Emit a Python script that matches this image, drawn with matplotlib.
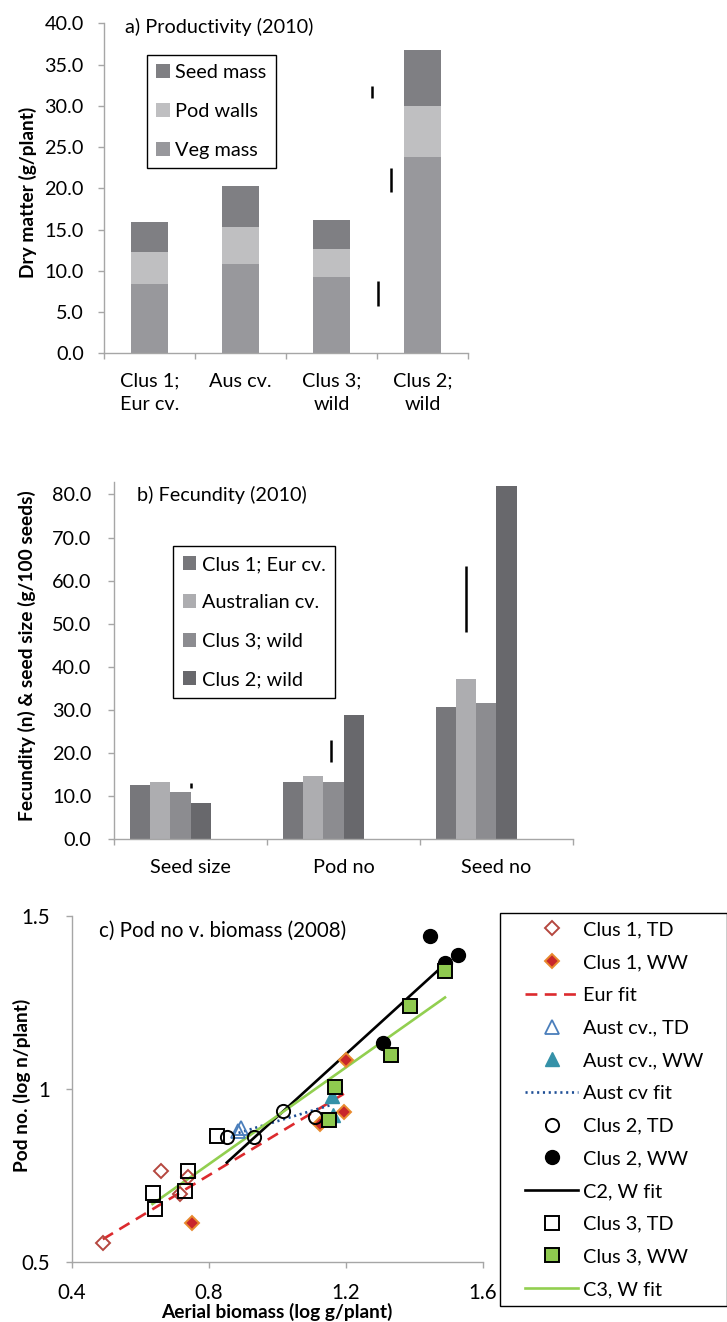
import matplotlib
matplotlib.use("Agg")
import matplotlib.pyplot as plt
from matplotlib.lines import Line2D
from matplotlib.legend_handler import HandlerLine2D

plt.rcParams['font.family'] = ['Lato', 'DejaVu Sans']
FS = 14.3
FS_LAB = 13.8
plt.rcParams['font.size'] = FS

W, H = 727, 1322
AXIS_GREY = '#a6a6a6'

# a) productivity (g/plant)
prod_groups = ["Clus 1;\nEur cv.", "Aus cv.", "Clus 3;\nwild", "Clus 2;\nwild"]
veg_mass = [8.4, 10.8, 9.2, 23.8]
pod_walls = [3.85, 4.55, 3.45, 6.2]
seed_mass = [3.7, 4.95, 3.5, 6.8]
prod_lsd_x = [2.44, 2.65, 2.51]
prod_lsd_lo = [31.0, 19.5, 5.7]
prod_lsd_hi = [32.4, 22.5, 8.8]

# b) fecundity
fec_groups = ["Seed size", "Pod no", "Seed no"]
fec_series = ["Clus 1; Eur cv.", "Australian cv.", "Clus 3; wild", "Clus 2; wild"]
eur_cv = [12.5, 13.2, 30.8]
aus_cv = [13.2, 14.8, 37.2]
clus3_wild = [11.0, 13.2, 31.6]
clus2_wild = [8.35, 28.9, 81.9]
fec_lsd_x = [0.0, 0.92, 1.80]
fec_lsd_lo = [11.9, 17.9, 48.1]
fec_lsd_hi = [13.0, 23.0, 63.4]

# c) pod no v. biomass (log)
c1_td_x = [0.49, 0.66, 0.715, 0.74]
c1_td_y = [0.555, 0.763, 0.697, 0.745]
c1_ww_x = [0.75, 1.20, 1.194, 1.125]
c1_ww_y = [0.613, 1.085, 0.934, 0.898]
eur_fit_x = [0.49, 1.20]
eur_fit_y = [0.565, 0.99]
aus_td_x = [0.886, 0.894]
aus_td_y = [0.878, 0.887]
aus_ww_x = [1.160, 1.162]
aus_ww_y = [0.979, 0.924]
aus_fit_x = [0.87, 1.16]
aus_fit_y = [0.868, 0.955]
c2_td_x = [0.852, 0.930, 1.017, 1.110]
c2_td_y = [0.860, 0.862, 0.936, 0.918]
c2_ww_x = [1.444, 1.489, 1.527, 1.307]
c2_ww_y = [1.443, 1.366, 1.388, 1.132]
c2_fit_x = [0.852, 1.478]
c2_fit_y = [0.787, 1.352]
c3_td_x = [0.823, 0.739, 0.731, 0.636, 0.643]
c3_td_y = [0.864, 0.764, 0.706, 0.700, 0.653]
c3_ww_x = [1.167, 1.151, 1.330, 1.387, 1.488]
c3_ww_y = [1.007, 0.910, 1.099, 1.240, 1.343]
c3_fit_x = [0.635, 1.489]
c3_fit_y = [0.667, 1.265]


def px_axes(fig, l, t, r, b):
    return fig.add_axes([l / W, 1 - b / H, (r - l) / W, (b - t) / H])


def style_axes(ax, size=FS):
    for s in ['top', 'right']:
        ax.spines[s].set_visible(False)
    for s in ['left', 'bottom']:
        ax.spines[s].set_color(AXIS_GREY)
        ax.spines[s].set_linewidth(1.0)
    ax.tick_params(which='major', color=AXIS_GREY, length=4.5, width=1.0,
                   direction='out', labelsize=size)


def legend_box(leg):
    fr = leg.get_frame()
    fr.set_edgecolor('black')
    fr.set_linewidth(1.0)
    fr.set_boxstyle('square', pad=0)


fig = plt.figure(figsize=(W / 100, H / 100), dpi=100)

# ---------------- panel a ----------------
ax = px_axes(fig, 104, 23.3, 468, 353.3)
style_axes(ax)
xa = list(range(len(prod_groups)))
bottom_pod = [v for v in veg_mass]
bottom_seed = [v + p for v, p in zip(veg_mass, pod_walls)]
ax.bar(xa, veg_mass, width=0.4, color='#98989c', label='Veg mass')
ax.bar(xa, pod_walls, width=0.4, bottom=bottom_pod, color='#bfbfc1', label='Pod walls')
ax.bar(xa, seed_mass, width=0.4, bottom=bottom_seed, color='#7f7f83', label='Seed mass')
ax.vlines(prod_lsd_x, prod_lsd_lo, prod_lsd_hi, color='black', lw=1.8)
ax.set_xlim(-0.5, 3.38)
ax.set_ylim(0, 40)
ax.set_yticks([0, 5, 10, 15, 20, 25, 30, 35, 40])
ax.set_yticklabels(['%.1f' % v for v in ax.get_yticks()])
ax.tick_params(axis='y', pad=10)
ax.set_xticks([-0.5, 0.5, 1.5, 2.5, 3.5])
ax.set_xticklabels([])
ax.set_xticks(xa, minor=True)
ax.set_xticklabels(prod_groups, minor=True, linespacing=1.42)
ax.tick_params(axis='x', which='minor', length=0, pad=14, labelsize=FS)
ax.text(125 / W, 1 - 26.7 / H, 'a) Productivity (2010)', transform=fig.transFigure,
        ha='left', va='center')
h, l = ax.get_legend_handles_labels()
leg = ax.legend(h[::-1], l[::-1], loc='upper left',
                bbox_to_anchor=(147 / W, 1 - 55 / H), bbox_transform=fig.transFigure,
                borderaxespad=0, borderpad=0.46, labelspacing=1.1,
                handlelength=0.71, handleheight=0.71, handletextpad=0.25,
                fancybox=False, framealpha=1)
legend_box(leg)
fig.text(28 / W, 1 - 192 / H, 'Dry matter (g/plant)', rotation=90,
         ha='center', va='center', fontweight='bold', fontsize=FS_LAB)

# ---------------- panel b ----------------
ax = px_axes(fig, 114.3, 482, 572.7, 839.3)
style_axes(ax)
bw = 0.1325
fec_colors = ['#77777b', '#adadb0', '#8c8c90', '#68686c']
for j, (vals, name) in enumerate(zip([eur_cv, aus_cv, clus3_wild, clus2_wild], fec_series)):
    xs = [i - 0.3975 + (j + 0.5) * bw for i in range(len(fec_groups))]
    ax.bar(xs, vals, width=bw, color=fec_colors[j], label=name)
ax.vlines(fec_lsd_x, fec_lsd_lo, fec_lsd_hi, color='black', lw=1.8)
ax.set_xlim(-0.5, 2.5)
ax.set_ylim(0, 82.9)
ax.set_yticks(range(0, 81, 10))
ax.set_yticklabels(['%.1f' % v for v in range(0, 81, 10)])
ax.tick_params(axis='y', pad=12)
ax.set_xticks([-0.5, 0.5, 1.5, 2.5])
ax.set_xticklabels([])
ax.set_xticks(range(len(fec_groups)), minor=True)
ax.set_xticklabels(fec_groups, minor=True)
ax.tick_params(axis='x', which='minor', length=0, pad=14, labelsize=FS)
ax.text(136.8 / W, 1 - 495 / H, 'b) Fecundity (2010)', transform=fig.transFigure,
        ha='left', va='center')
leg = ax.legend(loc='upper left',
                bbox_to_anchor=(172.6 / W, 1 - 546 / H), bbox_transform=fig.transFigure,
                borderaxespad=0, borderpad=0.5, labelspacing=1.08,
                handlelength=0.68, handleheight=0.7, handletextpad=0.28,
                fancybox=False, framealpha=1)
legend_box(leg)
fig.text(26.8 / W, 1 - 656 / H, 'Fecundity (n) & seed size (g/100 seeds)', rotation=90,
         ha='center', va='center', fontweight='bold', fontsize=FS_LAB)

# ---------------- panel c ----------------
FS_C = 14.8
ax = px_axes(fig, 72, 916.3, 483, 1261.7)
style_axes(ax, FS_C)
lw_fit = 1.9
ax.plot(eur_fit_x, eur_fit_y, color='#dc2a2e', lw=lw_fit, ls=(0, (4.5, 2.8)),
        label='Eur fit', zorder=2)
ax.plot(aus_fit_x, aus_fit_y, color='#1f4f96', lw=lw_fit, ls=(0, (0.8, 1.4)),
        label='Aust cv fit', zorder=2)
ax.plot(c2_fit_x, c2_fit_y, color='black', lw=lw_fit, label='C2, W fit', zorder=2)
ax.plot(c3_fit_x, c3_fit_y, color='#92cf50', lw=lw_fit, label='C3, W fit', zorder=2)

ax.plot(c1_td_x, c1_td_y, ls='none', marker='D', ms=7, mfc='none', mec='#b5473f',
        mew=1.4, label='Clus 1, TD', zorder=3)
ax.plot(c1_ww_x, c1_ww_y, ls='none', marker='D', ms=7.5, mfc='#c8262b', mec='#e88a2e',
        mew=1.4, label='Clus 1, WW', zorder=3)
ax.plot(aus_td_x, aus_td_y, ls='none', marker='^', ms=10, mfc='none', mec='#4a7ebb',
        mew=1.3, label='Aust cv., TD', zorder=3)
ax.plot(aus_ww_x, aus_ww_y, ls='none', marker='^', ms=10, mfc='#3591a8', mec='#3591a8',
        mew=1.0, label='Aust cv., WW', zorder=3)
ax.plot(c2_td_x, c2_td_y, ls='none', marker='o', ms=9.5, mfc='none', mec='black',
        mew=1.4, label='Clus 2, TD', zorder=3)
ax.plot(c2_ww_x, c2_ww_y, ls='none', marker='o', ms=10, mfc='black', mec='black',
        label='Clus 2, WW', zorder=3)
ax.plot(c3_td_x, c3_td_y, ls='none', marker='s', ms=9.5, mfc='none', mec='black',
        mew=1.4, label='Clus 3, TD', zorder=3)
ax.plot(c3_ww_x, c3_ww_y, ls='none', marker='s', ms=9.5, mfc='#8fca4f', mec='black',
        mew=1.4, label='Clus 3, WW', zorder=4)

ax.set_xlim(0.4, 1.6)
ax.set_ylim(0.5, 1.5)
ax.set_xticks([0.4, 0.8, 1.2, 1.6])
ax.set_xticklabels(['0.4', '0.8', '1.2', '1.6'])
ax.set_yticks([0.5, 1.0, 1.5])
ax.set_yticklabels(['0.5', '1', '1.5'])
ax.tick_params(axis='x', pad=11)
ax.tick_params(axis='y', pad=11)
ax.text(99.3 / W, 1 - 931 / H, 'c) Pod no v. biomass (2008)', transform=fig.transFigure,
        ha='left', va='center', fontsize=FS_C)
fig.text(276.7 / W, 1 - 1311.7 / H, 'Aerial biomass (log g/plant)',
         ha='center', va='center', fontweight='bold', fontsize=FS_LAB)
fig.text(21.7 / W, 1 - 1085 / H, 'Pod no. (log n/plant)', rotation=90,
         ha='center', va='center', fontweight='bold', fontsize=FS_LAB)

order = ['Clus 1, TD', 'Clus 1, WW', 'Eur fit', 'Aust cv., TD', 'Aust cv., WW',
         'Aust cv fit', 'Clus 2, TD', 'Clus 2, WW', 'C2, W fit', 'Clus 3, TD',
         'Clus 3, WW', 'C3, W fit']
h, l = ax.get_legend_handles_labels()
lookup = dict(zip(l, h))
leg = ax.legend([lookup[k] for k in order], order, loc='upper left',
                bbox_to_anchor=(500 / W, 1 - 1313.3 / H, 226.7 / W, 400 / H),
                bbox_transform=fig.transFigure, mode='expand',
                borderaxespad=0, borderpad=0.41, labelspacing=0.79,
                handlelength=3.53, handletextpad=0.25, numpoints=1,
                handler_map={Line2D: HandlerLine2D(xpad=0.86)},
                fancybox=False, framealpha=1)
legend_box(leg)
leg.set_zorder(10)

fig.savefig('out.png', dpi=100)
